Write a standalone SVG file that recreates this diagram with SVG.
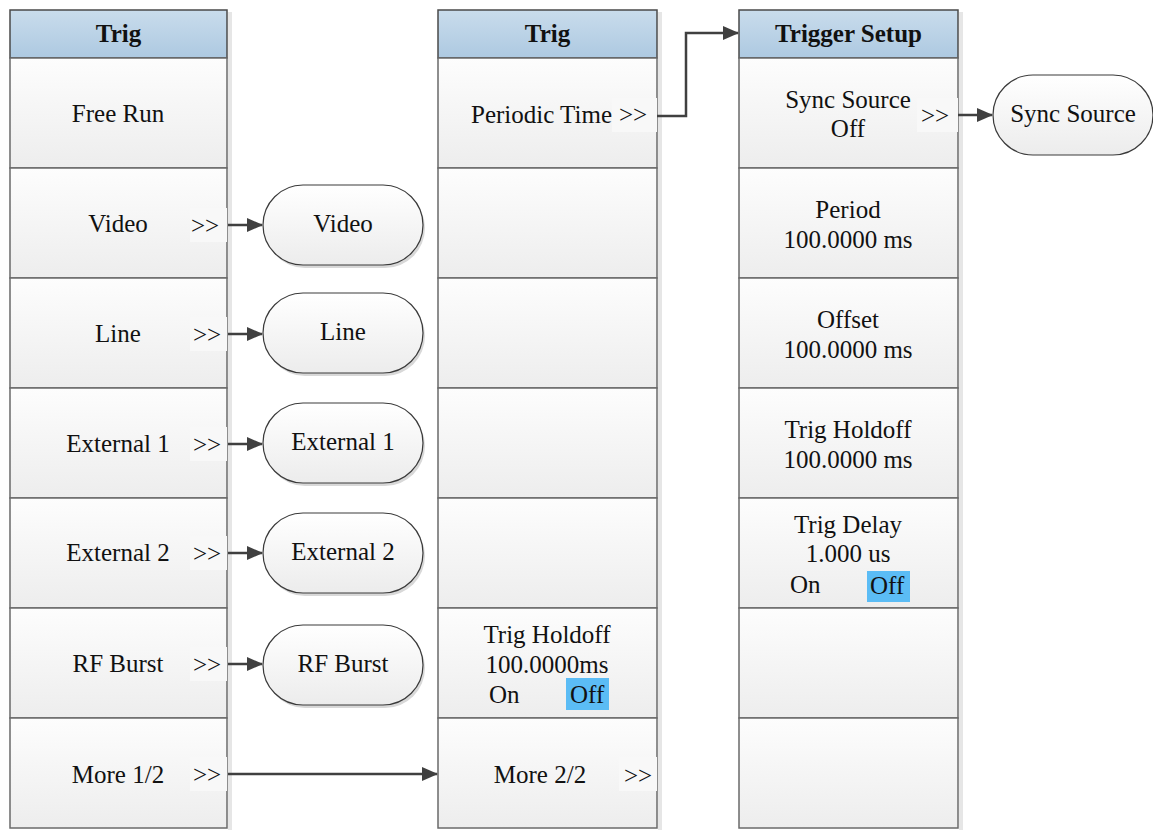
<svg xmlns="http://www.w3.org/2000/svg" width="1153" height="830" viewBox="0 0 1153 830" font-family="'Liberation Serif', 'Times New Roman', 'DejaVu Serif', serif">
<defs>
<linearGradient id="gRow" x1="0" y1="0" x2="0" y2="1"><stop offset="0" stop-color="#fdfdfd"/><stop offset="1" stop-color="#ededed"/></linearGradient>
<linearGradient id="gHead" x1="0" y1="0" x2="0" y2="1"><stop offset="0" stop-color="#c9dcec"/><stop offset="1" stop-color="#adc9e1"/></linearGradient>
<linearGradient id="gPill" x1="0" y1="0" x2="0" y2="1"><stop offset="0" stop-color="#ffffff"/><stop offset="1" stop-color="#ececec"/></linearGradient>
<marker id="arr" markerWidth="16" markerHeight="14" refX="15" refY="7" orient="auto" markerUnits="userSpaceOnUse"><path d="M0,0 L16,7 L0,14 z" fill="#404040"/></marker>
</defs>
<style>
text{font-family:'Liberation Serif','Times New Roman','DejaVu Serif',serif;font-size:25px;fill:#111;}
.h{font-weight:bold;}
.c{text-anchor:middle;}
.row{fill:url(#gRow);stroke:#6a6a6a;stroke-width:1.5;}
.head{fill:url(#gHead);stroke:#4a4a4a;stroke-width:1.5;}
.sh{fill:#e6e6e6;}
.pill{fill:url(#gPill);stroke:#3a3a3a;stroke-width:1.2;}
.pillsh{fill:#d8d8d8;}
.tag{fill:#f8f8f8;}
.hl{fill:#5bbcf5;}
.con{fill:none;stroke:#404040;stroke-width:2.5;marker-end:url(#arr);}
</style>
<rect width="1153" height="830" fill="#fff"/>

<rect class="sh" x="228" y="12" width="4" height="818"/>
<rect class="sh" x="658" y="12" width="4" height="818"/>
<rect class="sh" x="959" y="12" width="4" height="818"/>

<g id="col1">
<rect class="head" x="10" y="10" width="217" height="48"/>
<text class="h c" x="118.5" y="42">Trig</text>
<rect class="row" x="10" y="58" width="217" height="110"/>
<rect class="row" x="10" y="168" width="217" height="110"/>
<rect class="row" x="10" y="278" width="217" height="110"/>
<rect class="row" x="10" y="388" width="217" height="110"/>
<rect class="row" x="10" y="498" width="217" height="110"/>
<rect class="row" x="10" y="608" width="217" height="110"/>
<rect class="row" x="10" y="718" width="217" height="110"/>
<text class="c" x="118" y="122">Free Run</text>
<text class="c" x="118" y="232">Video</text>
<text class="c" x="118" y="342">Line</text>
<text class="c" x="118" y="452">External 1</text>
<text class="c" x="118" y="561">External 2</text>
<text class="c" x="118" y="672">RF Burst</text>
<text class="c" x="118" y="783">More 1/2</text>
<rect class="tag" x="190" y="208" width="37" height="34"/>
<rect class="tag" x="190" y="317" width="37" height="34"/>
<rect class="tag" x="190" y="427" width="37" height="34"/>
<rect class="tag" x="190" y="536" width="37" height="34"/>
<rect class="tag" x="190" y="647" width="37" height="34"/>
<rect class="tag" x="190" y="757" width="37" height="34"/>
<text x="191" y="234">&gt;&gt;</text>
<text x="193" y="343">&gt;&gt;</text>
<text x="193" y="453">&gt;&gt;</text>
<text x="193" y="562">&gt;&gt;</text>
<text x="193" y="673">&gt;&gt;</text>
<text x="193" y="783">&gt;&gt;</text>
</g>

<g id="col2">
<rect class="head" x="438" y="10" width="219" height="48"/>
<text class="h c" x="547.5" y="42">Trig</text>
<rect class="row" x="438" y="58" width="219" height="110"/>
<rect class="row" x="438" y="168" width="219" height="110"/>
<rect class="row" x="438" y="278" width="219" height="110"/>
<rect class="row" x="438" y="388" width="219" height="110"/>
<rect class="row" x="438" y="498" width="219" height="110"/>
<rect class="row" x="438" y="608" width="219" height="110"/>
<rect class="row" x="438" y="718" width="219" height="110"/>
<rect class="tag" x="612" y="98" width="45" height="34"/>
<text x="471" y="123">Periodic Time</text>
<text x="619" y="123">&gt;&gt;</text>
<text class="c" x="547" y="643">Trig Holdoff</text>
<text class="c" x="547" y="673">100.0000ms</text>
<rect class="hl" x="566" y="678" width="43" height="32"/>
<text x="489" y="703">On</text>
<text x="570" y="703">Off</text>
<text class="c" x="540" y="783">More 2/2</text>
<rect class="tag" x="619" y="757" width="38" height="34"/>
<text x="624" y="784">&gt;&gt;</text>
</g>

<g id="col3">
<rect class="head" x="739" y="10" width="219" height="48"/>
<text class="h c" x="848.5" y="42">Trigger Setup</text>
<rect class="row" x="739" y="58" width="219" height="110"/>
<rect class="row" x="739" y="168" width="219" height="110"/>
<rect class="row" x="739" y="278" width="219" height="110"/>
<rect class="row" x="739" y="388" width="219" height="110"/>
<rect class="row" x="739" y="498" width="219" height="110"/>
<rect class="row" x="739" y="608" width="219" height="110"/>
<rect class="row" x="739" y="718" width="219" height="110"/>
<text class="c" x="848" y="108">Sync Source</text>
<text class="c" x="848" y="137">Off</text>
<rect class="tag" x="917" y="98" width="41" height="34"/>
<text x="921" y="124">&gt;&gt;</text>
<text class="c" x="848" y="218">Period</text>
<text class="c" x="848" y="248">100.0000 ms</text>
<text class="c" x="848" y="328">Offset</text>
<text class="c" x="848" y="358">100.0000 ms</text>
<text class="c" x="848" y="438">Trig Holdoff</text>
<text class="c" x="848" y="468">100.0000 ms</text>
<text class="c" x="848" y="533">Trig Delay</text>
<text class="c" x="848" y="562">1.000 us</text>
<rect class="hl" x="867" y="571" width="43" height="31"/>
<text x="790" y="593">On</text>
<text x="870" y="594">Off</text>
</g>

<g id="pill-video">
<rect class="pillsh" x="265" y="188" width="160" height="80" rx="40"/>
<rect class="pill" x="263" y="185" width="160" height="80" rx="40"/>
<text class="c" x="343" y="232">Video</text>
</g>
<g id="pill-line">
<rect class="pillsh" x="265" y="296" width="160" height="80" rx="40"/>
<rect class="pill" x="263" y="293" width="160" height="80" rx="40"/>
<text class="c" x="343" y="340">Line</text>
</g>
<g id="pill-ext1">
<rect class="pillsh" x="265" y="406" width="160" height="80" rx="40"/>
<rect class="pill" x="263" y="403" width="160" height="80" rx="40"/>
<text class="c" x="343" y="450">External 1</text>
</g>
<g id="pill-ext2">
<rect class="pillsh" x="265" y="516" width="160" height="80" rx="40"/>
<rect class="pill" x="263" y="513" width="160" height="80" rx="40"/>
<text class="c" x="343" y="560">External 2</text>
</g>
<g id="pill-rf">
<rect class="pillsh" x="265" y="628" width="160" height="80" rx="40"/>
<rect class="pill" x="263" y="625" width="160" height="80" rx="40"/>
<text class="c" x="343" y="672">RF Burst</text>
</g>
<g id="pill-sync">
<rect class="pill" x="993" y="75" width="160" height="80" rx="40"/>
<text class="c" x="1073" y="122">Sync Source</text>
</g>

<g id="connectors">
<path class="con" d="M228,225 L262,225"/>
<path class="con" d="M228,334 L262,334"/>
<path class="con" d="M228,444 L262,444"/>
<path class="con" d="M228,553 L262,553"/>
<path class="con" d="M228,664 L262,664"/>
<path class="con" d="M228,774 L437,774"/>
<path class="con" d="M657,116 L686,116 L686,33 L738,33"/>
<path class="con" d="M958,115 L992,115"/>
</g>
</svg>
